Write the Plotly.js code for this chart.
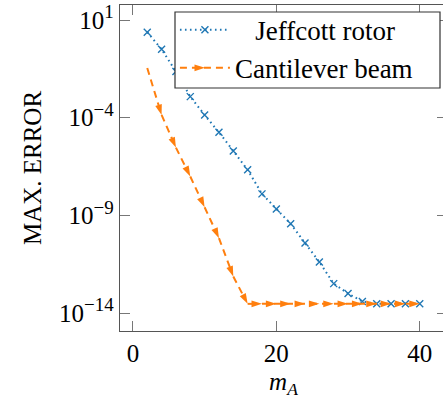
<!DOCTYPE html>
<html>
<head>
<meta charset="utf-8">
<script src="https://cdn.plot.ly/plotly-3.0.1.min.js"></script>
<style>
html,body{margin:0;padding:0;overflow:hidden;background:#fff;}
#chart{width:447px;height:400px;}
</style>
</head>
<body>
<div id="chart"></div>
<script>
// Data
const mA = [2,4,6,8,10,12,14,16,18,20,22,24,26,28,30,32,34,36,38,40];
const jeffcottError = [2.4, 3.2e-1, 2.3e-2, 1.2e-3, 1.38e-4, 1.78e-5, 2.0e-6, 2.14e-7, 1.26e-8, 2.1e-9,
  3.7e-10, 3.8e-11, 4.1e-12, 3.2e-13, 1.0e-13, 3.9e-14, 2.95e-14, 2.95e-14, 2.95e-14, 2.95e-14];
const cantileverError = [3.5e-2, 1.38e-4, 2.95e-6, 9.8e-8, 2.6e-9, 6.8e-11, 7.4e-13, 2.95e-14, 2.95e-14, 2.95e-14,
  2.95e-14, 2.95e-14, 2.95e-14, 2.95e-14, 2.95e-14, 2.95e-14, 2.95e-14, 2.95e-14, 2.95e-14, 2.95e-14];
const seriesNames = ["Jeffcott rotor", "Cantilever beam"];
const yTickVals = [1e1, 1e-4, 1e-9, 1e-14];
const yTickExp = ["1", "\u22124", "\u22129", "\u221214"];
const xTickVals = [0, 20, 40];

const blue = "#1f77b4";
const orange = "#ff7f0e";
const FONT = "'Liberation Serif', serif";

const traces = [
  {
    x: mA, y: jeffcottError, name: "\u00a0\u00a0\u00a0" + seriesNames[0], type: "scatter", mode: "lines+markers",
    line: {color: blue, width: 2, dash: "1.6px,3.4px"},
    marker: {symbol: "x-thin-open", size: 7, color: blue, line: {color: blue, width: 1.4}}
  },
  {
    x: mA, y: cantileverError, name: seriesNames[1], type: "scatter", mode: "lines+markers",
    line: {color: orange, width: 2, dash: "7px,5px"},
    marker: {symbol: "arrow", size: 11, color: orange, angleref: "previous", angle: 0,
             line: {color: orange, width: 0}}
  }
];

const axisCommon = {
  showgrid: false, zeroline: false,
  showline: true, linecolor: "#555", linewidth: 1.2,
  mirror: "all", ticks: "inside", ticklen: 10, tickwidth: 1, tickcolor: "#777",
  tickfont: {family: FONT, size: 25, color: "#000"}
};

const layout = {
  width: 447, height: 400,
  margin: {l: 120, r: 0, t: 5, b: 69},
  paper_bgcolor: "#fff", plot_bgcolor: "#fff",
  font: {family: FONT, size: 24, color: "#000"},
  showlegend: true,
  legend: {
    x: 0.168, y: 0.998, xanchor: "left", yanchor: "top",
    bgcolor: "rgba(0,0,0,0)", borderwidth: 0,
    font: {family: FONT, size: 27, color: "#000"},
    itemwidth: 50, tracegroupgap: 0
  },
  shapes: [{
    type: "rect", xref: "paper", yref: "paper", layer: "above",
    x0: 0.1682, x1: 0.9786, y0: 0.7454, y1: 0.9785,
    fillcolor: "#fff", line: {color: "#333", width: 1.2}
  }],
  xaxis: Object.assign({}, axisCommon, {
    range: [-1.8, 43.8], tickvals: xTickVals, ticktext: xTickVals.map(String),
    title: {text: "<i>m</i><sub><i>A</i></sub>", font: {family: FONT, size: 25}, standoff: 6}
  }),
  yaxis: Object.assign({}, axisCommon, {
    type: "log", range: [-14.92, 1.77], tickvals: yTickVals,
    ticktext: yTickExp.map(e => "10<sup><span style='font-size:19px'>" + e + "</span></sup>"),
    title: {text: "MAX. ERROR", font: {family: FONT, size: 25}, standoff: 10}
  })
};

Plotly.newPlot("chart", traces, layout, {displayModeBar: false, staticPlot: true});
</script>
</body>
</html>
